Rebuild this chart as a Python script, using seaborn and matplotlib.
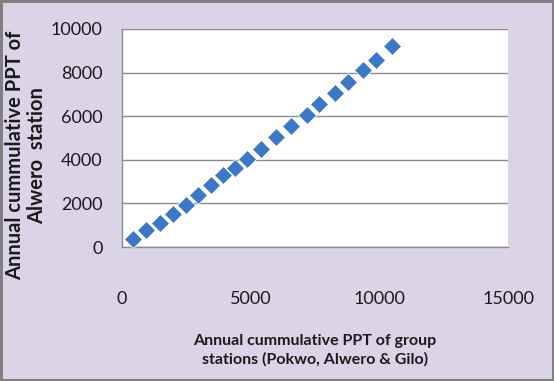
import numpy as np
import pandas as pd
import seaborn as sns
import matplotlib.pyplot as plt

# cumulative annual rainfall values
group_ppt = [440, 935, 1475, 1970, 2485, 2940, 3460, 3935, 4390, 4845,
             5390, 5985, 6565, 7175, 7665, 8275, 8790, 9375, 9870, 10480]
alwero_ppt = [350, 780, 1115, 1515, 1925, 2385, 2845, 3305, 3640, 4025,
              4500, 5030, 5550, 6055, 6560, 7050, 7585, 8125, 8585, 9225]

x_ticks = [0, 5000, 10000, 15000]
y_ticks = [0, 2000, 4000, 6000, 8000, 10000]

df = pd.DataFrame({'group': group_ppt, 'alwero': alwero_ppt})

sns.set_style('white')
plt.rcParams['font.family'] = ['Lato', 'DejaVu Sans']

bg = '#dbd4e7'
fig = plt.figure(figsize=(5.54, 3.81), dpi=100)
fig.patch.set_facecolor(bg)
fig.patch.set_edgecolor('#808080')
fig.patch.set_linewidth(2.5)
ax = fig.add_axes([0.2202, 0.3517, 0.6968, 0.5722])
ax.set_facecolor('white')

sns.scatterplot(x='group', y='alwero', data=df, marker='D', s=85,
                color='#3c78c6', edgecolor='white', linewidth=0.6, ax=ax, zorder=3)

ax.set_xlim(0, 15000)
ax.set_ylim(0, 10000)
ax.set_xticks(x_ticks)
ax.set_yticks(y_ticks)
ax.yaxis.grid(True, color='#8a8a8a', linewidth=1)
ax.set_axisbelow(True)

for side in ['top', 'right']:
    ax.spines[side].set_visible(False)
for side in ['left', 'bottom']:
    ax.spines[side].set_color('#8a8a8a')
    ax.spines[side].set_linewidth(1)

ax.tick_params(axis='x', direction='inout', length=7, color='#8a8a8a', pad=28,
               labelsize=13, labelcolor='#1a1a1a')
ax.tick_params(axis='y', direction='out', length=4, color='#8a8a8a', pad=10,
               labelsize=13, labelcolor='#1a1a1a')

ax.set_xlabel('Annual cummulative PPT of group\nstations (Pokwo, Alwero & Gilo)',
              fontsize=11.5, fontweight='bold', color='#1a1a1a', linespacing=1.3)
ax.set_ylabel('Annual cummulative PPT of\nAlwero  station',
              fontsize=14.5, fontweight='bold', color='#1a1a1a', linespacing=1.15)
ax.xaxis.set_label_coords(0.5, -0.40)
ax.yaxis.set_label_coords(-0.194, 0.42)

fig.savefig('out.png', dpi=100, facecolor=fig.get_facecolor(), edgecolor=fig.get_edgecolor())
